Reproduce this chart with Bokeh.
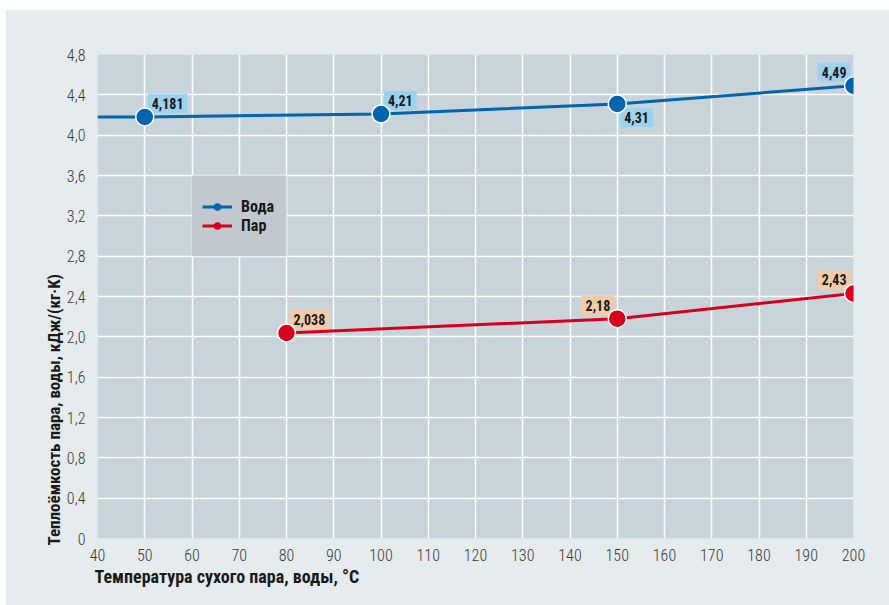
from bokeh.plotting import figure
from bokeh.models import (Label, Legend, LegendItem, BoxAnnotation, Title,
                          FixedTicker, CustomJSTickFormatter)
from bokeh.embed import file_html
from bokeh.resources import INLINE

# Heat capacity of water and dry steam vs temperature
water_t = [50, 100, 150, 200]
water_c = [4.181, 4.21, 4.31, 4.49]
# the water curve starts at the left edge of the axis
water_line_t = [40, 50, 100, 150, 200]
water_line_c = [4.18, 4.181, 4.21, 4.31, 4.49]

steam_t = [80, 150, 200]
steam_c = [2.038, 2.18, 2.43]

x_ticks = [40, 50, 60, 70, 80, 90, 100, 110, 120, 130, 140, 150, 160, 170, 180, 190, 200]
y_ticks = [0, 0.4, 0.8, 1.2, 1.6, 2.0, 2.4, 2.8, 3.2, 3.6, 4.0, 4.4, 4.8]

# label placement per point: u/d = above/below, r/l = right/left
water_label_pos = ["ur", "ur", "dr", "ul"]
steam_label_pos = ["ur", "ul", "ul"]

FONT = "'Roboto Condensed', 'Noto Sans Condensed', 'Open Sans Condensed', Roboto, sans-serif"
FONT_LIGHT = "'Roboto Condensed Light', 'Roboto Condensed', Roboto, sans-serif"
PANEL = "#E6EBEE"
BLUE = "#0065AC"
RED = "#D6001C"

p = figure(width=884, height=596, x_range=(40, 200), y_range=(0, 4.8),
           output_backend="svg", toolbar_location=None,
           background_fill_color="#C8D3DA", border_fill_color=PANEL,
           min_border_left=92, min_border_top=45, min_border_right=36,
           min_border_bottom=67)
p.margin = (9, 0, 0, 5)
p.outline_line_color = None

for ax in (p.xaxis[0], p.yaxis[0]):
    ax.axis_line_color = None
    ax.major_tick_line_color = None
    ax.minor_tick_line_color = None
    ax.major_label_text_font = FONT_LIGHT
    ax.major_label_text_font_size = "16px"
    ax.major_label_text_color = "#3a3a3a"

p.xaxis.ticker = FixedTicker(ticks=x_ticks)
p.yaxis.ticker = FixedTicker(ticks=y_ticks)
p.yaxis.formatter = CustomJSTickFormatter(
    code='return tick == 0 ? "0" : tick.toFixed(1).replace(".", ",");')
p.xaxis.major_label_standoff = 4
p.yaxis.major_label_standoff = 6

for g in (p.xgrid[0], p.ygrid[0]):
    g.grid_line_color = "white"
    g.grid_line_width = 1.5

# axis titles, aligned to the start of the frame
xt = Title(text="Температура сухого пара, воды, °С", align="left",
           text_font=FONT, text_font_size="18px", text_font_style="bold",
           text_color="#1a1a1a", offset=-3, standoff=0)
p.add_layout(xt, "below")
yt = Title(text="Теплоёмкость пара, воды, кДж/(кг·K)", align="left",
           text_font=FONT, text_font_size="17px", text_font_style="bold",
           text_color="#1a1a1a", offset=-7, standoff=0)
p.add_layout(yt, "left")

# legend panel
p.add_layout(BoxAnnotation(left=60, right=80, bottom=2.8, top=3.6,
                           fill_color="#C1C9CF", fill_alpha=1, line_color=None))


def fmt(v):
    return str(v).replace(".", ",")


def add_labels(ts, cs, poss, color):
    # value tags sit under the lines and markers
    for t, c, pos in zip(ts, cs, poss):
        dx = 3 if pos[1] == "r" else -3
        dy = 4 if pos[0] == "u" else -4
        p.add_layout(Label(x=t, y=c, text=fmt(c), x_offset=dx, y_offset=dy,
                           text_align="left" if pos[1] == "r" else "right",
                           text_baseline="bottom" if pos[0] == "u" else "top",
                           text_font=FONT, text_font_size="14px",
                           text_font_style="bold", text_color="#1a1a1a",
                           background_fill_color=color, padding=4,
                           level="underlay"))


add_labels(water_t, water_c, water_label_pos, "#9DD2EE")
add_labels(steam_t, steam_c, steam_label_pos, "#F3CBA8")

wl = p.line(water_line_t, water_line_c, line_color=BLUE, line_width=3)
sl = p.line(steam_t, steam_c, line_color=RED, line_width=3)
ws = p.scatter(water_t, water_c, size=18, fill_color=BLUE,
               line_color="white", line_width=1.5)
ss = p.scatter(steam_t, steam_c, size=18, fill_color=RED,
               line_color="white", line_width=1.5)

# small markers only for the legend swatches
wlg = p.line([None], [None], line_color=BLUE, line_width=3)
wsg = p.scatter([None], [None], size=10, fill_color=BLUE, line_color=None)
slg = p.line([None], [None], line_color=RED, line_width=3)
ssg = p.scatter([None], [None], size=10, fill_color=RED, line_color=None)

legend = Legend(items=[LegendItem(label="Вода", renderers=[wlg, wsg]),
                       LegendItem(label="Пар", renderers=[slg, ssg])],
                location=(105, 303), background_fill_alpha=0,
                border_line_color=None, glyph_width=30, glyph_height=19,
                label_height=19, spacing=0, padding=10, margin=0,
                label_standoff=9, label_text_font=FONT,
                label_text_font_size="16px", label_text_font_style="bold",
                label_text_color="#1a1a1a")
p.add_layout(legend, "center")

open("out.html", "w").write(file_html(p, INLINE))
